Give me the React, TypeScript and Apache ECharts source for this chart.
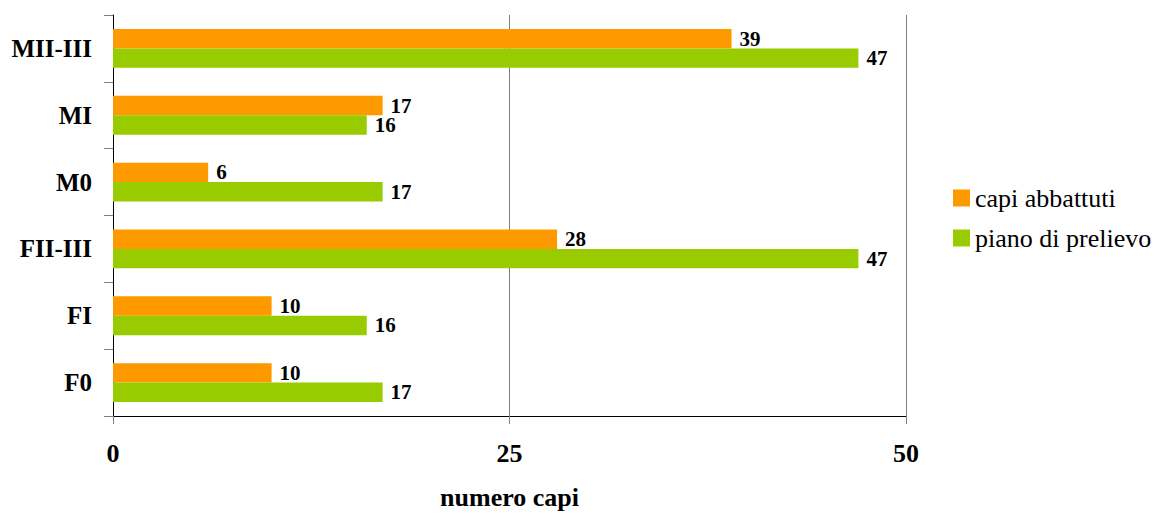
import React, { useEffect, useRef } from "react";
import * as echarts from "echarts";

const categories = ["F0", "FI", "FII-III", "M0", "MI", "MII-III"];
const capiAbbattuti = [10, 10, 28, 6, 17, 39];
const pianoDiPrelievo = [17, 16, 47, 17, 16, 47];
const seriesNames = ["capi abbattuti", "piano di prelievo"];
const xMin = 0;
const xMax = 50;
const xInterval = 25;

const FONT = '"Liberation Serif", "Times New Roman", serif';

export default function App() {
  const ref = useRef<HTMLDivElement>(null);

  useEffect(() => {
    document.body.style.margin = "0";
    const chart = echarts.init(ref.current!, undefined, { renderer: "svg" });
    const labelStyle = {
      show: true,
      position: "right" as const,
      distance: 8,
      color: "#000",
      fontFamily: FONT,
      fontWeight: "bold" as const,
      fontSize: 21,
    };
    chart.setOption({
      animation: false,
      backgroundColor: "#fff",
      textStyle: { fontFamily: FONT },
      grid: { left: 113, right: 253, top: 15, bottom: 96 },
      legend: {
        orient: "vertical",
        left: 953,
        top: 185,
        padding: 0,
        itemWidth: 17,
        itemHeight: 17,
        itemGap: 14,
        icon: "rect",
        data: seriesNames,
        textStyle: { fontFamily: FONT, fontSize: 26, color: "#000" },
      },
      xAxis: {
        type: "value",
        min: xMin,
        max: xMax,
        interval: xInterval,
        axisLine: { show: true, lineStyle: { color: "#000", width: 1 } },
        axisTick: { show: true, length: 8, lineStyle: { color: "#808080" } },
        splitLine: { show: true, lineStyle: { color: "#808080", width: 1 } },
        axisLabel: {
          margin: 24,
          color: "#000",
          fontFamily: FONT,
          fontWeight: "bold",
          fontSize: 26,
        },
        name: "numero capi",
        nameLocation: "middle",
        nameGap: 68,
        nameTextStyle: {
          color: "#000",
          fontFamily: FONT,
          fontWeight: "bold",
          fontSize: 26,
        },
      },
      yAxis: {
        type: "category",
        data: categories,
        axisLine: { show: true, lineStyle: { color: "#000", width: 1 } },
        axisTick: { show: true, length: 9, lineStyle: { color: "#808080" } },
        axisLabel: {
          margin: 21,
          color: "#000",
          fontFamily: FONT,
          fontWeight: "bold",
          fontSize: 25,
        },
      },
      series: [
        {
          name: seriesNames[0],
          type: "bar",
          data: capiAbbattuti,
          itemStyle: { color: "#FF9900" },
          barGap: "0%",
          barCategoryGap: "42%",
          label: labelStyle,
        },
        {
          name: seriesNames[1],
          type: "bar",
          data: pianoDiPrelievo,
          itemStyle: { color: "#99CC00" },
          barGap: "0%",
          barCategoryGap: "42%",
          label: labelStyle,
        },
      ],
    });
    return () => chart.dispose();
  }, []);

  return <div ref={ref} style={{ width: 1159, height: 515 }} />;
}
